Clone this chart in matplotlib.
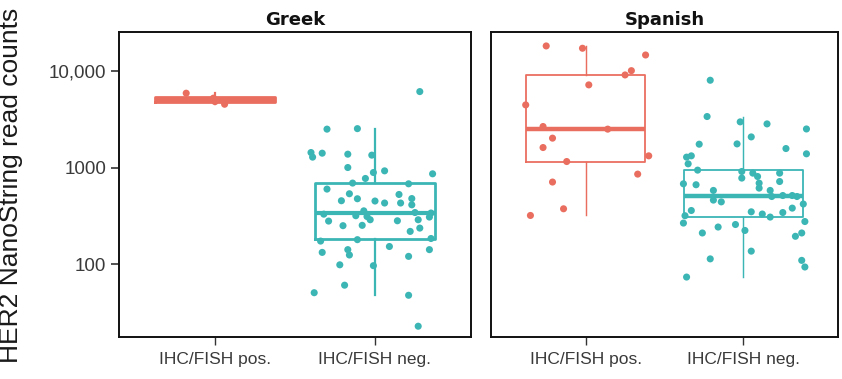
import numpy as np
import matplotlib
matplotlib.use("Agg")
import matplotlib.pyplot as plt
from matplotlib import cbook

plt.rcParams['font.family'] = ['Liberation Sans', 'DejaVu Sans']

panels = ["Greek", "Spanish"]
categories = ["IHC/FISH pos.", "IHC/FISH neg."]
tick_values = [100, 1000, 10000]
tick_labels = ["100", "1000", "10,000"]
ylabel = "HER2 NanoString read counts"

# Greek, IHC/FISH pos.
greek_pos = [5850, 5200, 4790, 4500]
greek_pos_jit = [-0.18, -0.01, 0.00, 0.06]

# Greek, IHC/FISH neg.
greek_neg = [6080, 2490, 2520, 1428, 1280, 1406, 1373, 1342, 1000, 888,
             924, 861, 771, 691, 679, 599, 536, 476, 454, 451,
             430, 527, 430, 478, 412, 357, 312, 318, 330, 343,
             339, 308, 280, 251, 253, 289, 282, 289, 237, 219,
             174, 180, 185, 153, 133, 142, 125, 142, 121, 99,
             97, 61, 51, 48, 23]
greek_neg_jit = [0.28, -0.30, -0.11, -0.40, -0.39, -0.33, -0.17, -0.02, -0.17, -0.01,
                 0.06, 0.36, -0.06, -0.14, 0.21, -0.30, -0.16, -0.11, -0.21, 0.00,
                 0.06, 0.15, 0.16, 0.23, 0.23, -0.07, -0.05, -0.12, -0.32, 0.25,
                 0.35, 0.34, -0.29, -0.20, -0.08, -0.03, 0.14, 0.27, 0.28, 0.22,
                 -0.34, -0.11, 0.35, 0.09, -0.33, -0.17, -0.16, 0.34, 0.21, -0.22,
                 -0.01, -0.19, -0.38, 0.21, 0.27]

# Spanish, IHC/FISH pos.
spanish_pos = [17990, 17030, 14510, 10000, 9030, 7130, 4430, 2650, 2490, 2010,
               1608, 1320, 1153, 855, 708, 375, 320]
spanish_pos_jit = [-0.25, -0.02, 0.38, 0.29, 0.25, 0.02, -0.38, -0.27, 0.14, -0.21,
                   -0.27, 0.40, -0.12, 0.33, -0.21, -0.14, -0.35]

# Spanish, IHC/FISH neg.
spanish_neg = [7960, 3360, 2960, 2820, 2500, 2070, 1741, 1753, 1570, 1385,
               1320, 1280, 1092, 940, 910, 875, 875, 778, 808, 717,
               690, 679, 664, 613, 580, 580, 502, 514, 514, 502,
               461, 442, 420, 381, 360, 318, 349, 331, 308, 343,
               277, 267, 258, 243, 224, 211, 211, 195, 137, 114,
               110, 94, 74]
spanish_neg_jit = [-0.21, -0.23, -0.02, 0.15, 0.40, 0.05, -0.28, -0.04, 0.27, 0.40,
                   -0.33, -0.36, -0.35, -0.29, -0.01, 0.06, 0.23, -0.01, 0.09, 0.23,
                   0.10, -0.38, -0.30, 0.10, -0.19, 0.17, 0.18, 0.25, 0.31, 0.34,
                   -0.19, -0.14, 0.38, 0.31, -0.33, -0.37, 0.05, 0.12, 0.17, 0.25,
                   0.39, -0.38, -0.05, -0.16, 0.01, -0.26, 0.37, 0.33, 0.05, -0.21,
                   0.37, 0.39, -0.36]

data = {
    "Greek": [(greek_pos, greek_pos_jit), (greek_neg, greek_neg_jit)],
    "Spanish": [(spanish_pos, spanish_pos_jit), (spanish_neg, spanish_neg_jit)],
}
colors = ["#EA6E60", "#3CB5B5"]
box_lw = {"Greek": 2.0, "Spanish": 1.3}
med_lw = {"Greek": 3.0, "Spanish": 3.2}

fig = plt.figure(figsize=(8.42, 3.79), dpi=100)
axes_rects = {
    "Greek": [119/842, 42/379, 352/842, 305/379],
    "Spanish": [491/842, 42/379, 347/842, 305/379],
}

for name in panels:
    ax = fig.add_axes(axes_rects[name])
    ax.set_yscale("log")
    for i, ((vals, jit), col) in enumerate(zip(data[name], colors)):
        pos = i + 1
        st = cbook.boxplot_stats(np.log10(vals), whis=1.5)[0]
        for k in ("med", "q1", "q3", "whislo", "whishi"):
            st[k] = 10 ** st[k]
        st["fliers"] = []
        ax.bxp([st], positions=[pos], widths=0.75, showfliers=False,
               showcaps=False, patch_artist=False,
               boxprops=dict(color=col, linewidth=box_lw[name]),
               whiskerprops=dict(color=col, linewidth=box_lw[name] * 0.8),
               medianprops=dict(color=col, linewidth=med_lw[name], solid_capstyle="butt"))
        ax.scatter(pos + np.array(jit), vals, s=26, color=col, edgecolors="none",
                   zorder=3)
    ax.set_xlim(0.4, 2.6)
    ax.set_ylim(17.8, 25060)
    ax.set_xticks([1, 2])
    ax.set_xticklabels(categories, fontsize=12.5, color="#3a3a3a")
    ax.minorticks_off()
    ax.set_yticks(tick_values)
    if name == "Greek":
        ax.set_yticklabels(tick_labels, fontsize=13.5, color="#3a3a3a")
        ax.set_ylabel(ylabel, fontsize=19, color="#1a1a1a")
        ax.yaxis.set_label_coords(-0.273, 0.498)
        ax.tick_params(axis="y", length=6, width=1.2, color="#333333", pad=3)
    else:
        ax.tick_params(axis="y", left=False, labelleft=False)
    ax.tick_params(axis="x", length=6, width=1.0, color="#333333", pad=5)
    for sp in ax.spines.values():
        sp.set_linewidth(1.4)
        sp.set_color("#111111")
    ax.set_title(name, fontsize=13, fontweight="bold", family=["DejaVu Sans"],
                 pad=5, color="#111111")

fig.savefig("out.png", dpi=100)
